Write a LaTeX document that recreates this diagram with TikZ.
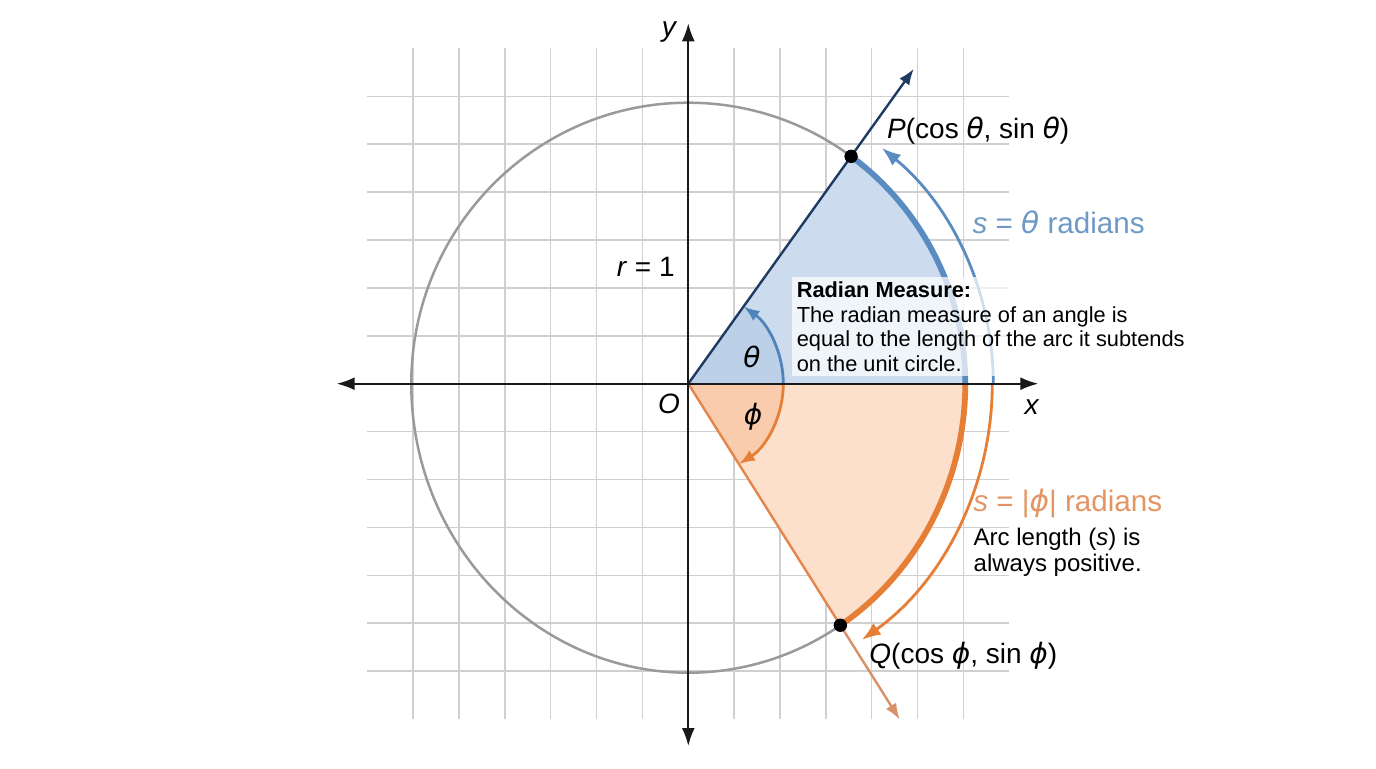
\documentclass[tikz,border=0pt]{standalone}
\usepackage{fontspec}
\setmainfont{Liberation Sans}
\newfontfamily\gk{DejaVu Sans}
\usetikzlibrary{arrows.meta,calc}
\definecolor{navy}{HTML}{1F3B63}
\definecolor{bluethick}{HTML}{5A8CC2}
\definecolor{bluelab}{HTML}{6E9AC5}
\definecolor{bluefill}{HTML}{CCDCEE}
\definecolor{bluedark}{HTML}{BCD0E7}
\definecolor{bluesm}{HTML}{4F84BA}
\definecolor{orline}{HTML}{E4864C}
\definecolor{orthick}{HTML}{E67E35}
\definecolor{orlab}{HTML}{E49563}
\definecolor{orfill}{HTML}{FCE0CC}
\definecolor{ordark}{HTML}{F8CCAD}
\definecolor{orbrown}{HTML}{D79068}
\definecolor{circgray}{HTML}{9A9A9A}
\definecolor{gridgray}{HTML}{D0D0D0}
\newcommand{\gth}{{\gk\itshape θ}}
\newcommand{\gph}{{\gk\itshape ϕ}}
\begin{document}
\begin{tikzpicture}[x=0.5pt,y=0.5pt,
  gridline/.style={draw=gridgray,line width=0.75pt},
  axisline/.style={draw=black!90,line width=1pt},
  circline/.style={draw=circgray,line width=1.25pt},
  lab/.style={font=\fontsize{14}{16}\selectfont,inner sep=0pt},
  slabel/.style={font=\fontsize{14.8}{16}\selectfont,inner sep=0pt},
  midlab/.style={font=\fontsize{12}{13.3}\selectfont,inner sep=0pt},
  bigtip/.style={-{Latex[length=9.5pt,width=7pt]}},
  midtip/.style={-{Latex[length=8pt,width=6pt]}},
  dot/.style={fill=black}
]
\useasboundingbox (-688.3,-384.3) rectangle (687.7,383.7);
\fill[white] (-688.3,-384.3) rectangle (687.7,383.7);
% grid
\foreach \j in {-6,...,6} \draw[gridline] (-320.95,{\j*47.9}) -- (320.95,{\j*47.9});
\foreach \k in {-6,...,6} \draw[gridline] ({\k*45.85},-335.3) -- ({\k*45.85},335.3);
% coordinates
\coordinate (O) at (0,0);
\coordinate (P) at (54:277 and 281);
\coordinate (Q) at (-56.7:277 and 289);
\coordinate (Pend) at ($(O)!1.385!(P)$);
\coordinate (Qend) at ($(O)!1.39!(Q)$);
\coordinate (xl) at (-351.6,0);
\coordinate (xr) at (350,0);
\coordinate (yt) at (0,360.4);
\coordinate (yb) at (0,-362.3);
% sectors
\fill[bluefill] (O) -- (277,0) arc[start angle=0,end angle=54,x radius=277,y radius=281] -- cycle;
\fill[orfill] (O) -- (277,0) arc[start angle=0,end angle=-56.7,x radius=277,y radius=289] -- cycle;
\fill[bluedark] (O) -- (95,0) arc[start angle=0,end angle=54.4,radius=95] -- cycle;
\fill[ordark] (O) -- (95,0) arc[start angle=0,end angle=-57.8,radius=95] -- cycle;
% circle
\draw[circline] (277,0) arc[start angle=0,end angle=180,x radius=277,y radius=281]
  arc[start angle=180,end angle=360,x radius=277,y radius=289];
% thick arcs
\draw[bluethick,line width=2.9pt] (P) arc[start angle=54,end angle=0,x radius=277,y radius=281];
\draw[orthick,line width=2.9pt] (277,0) arc[start angle=0,end angle=-56.7,x radius=277,y radius=289];
% rays
\draw[navy,line width=1.2pt] (O) -- (P);
\draw[navy,line width=1.2pt,midtip] (P) -- (Pend);
\draw[orline,line width=1.2pt] (O) -- (Q);
\draw[orbrown,line width=1.2pt,midtip] (Q) -- (Qend);
% outer arrows
\draw[bluethick,line width=1.4pt,bigtip] (305,0) arc[start angle=0,end angle=50.6,radius=305];
\draw[orthick,line width=1.4pt,bigtip] (304,0) arc[start angle=0,end angle=-55.2,x radius=304,y radius=312];
% small angle arcs
\draw[bluesm,line width=1.4pt,midtip] (95,0) arc[start angle=0,end angle=54.4,radius=95];
\draw[orthick,line width=1.4pt,midtip] (95,0) arc[start angle=0,end angle=-57.8,radius=95];
% box
\node[anchor=north west,fill=white,fill opacity=0.72,text opacity=1,
  inner xsep=2.2pt,inner ysep=2.3pt,align=left,
  font=\fontsize{10.9}{12.25}\selectfont] (box) at (103.7,106.7)
  {\textbf{Radian Measure:}\\The radian measure of an angle is\\equal to the length of the arc it subtends\\on the unit circle.};
% axes
\draw[axisline,{Latex[length=9pt,width=6.5pt]}-{Latex[length=9pt,width=6.5pt]}] (xl) -- (xr);
\draw[axisline,{Latex[length=9pt,width=6.5pt]}-{Latex[length=9pt,width=6.5pt]}] (yb) -- (yt);
% dots
\fill[dot] (P) circle (3.35pt);
\fill[dot] (Q) circle (3.35pt);
% labels
\node[lab] (ylab) at (-19.3,351.7) {\itshape y};
\node[lab] (xlab) at (343.4,-23) {\itshape x};
\node[lab] (Olab) at (-19.3,-20.3) {\itshape O};
\node[lab,anchor=base east] (rlab) at (-13.3,107) {\itshape r\/ \upshape = 1};
\node[lab] (thlab) at (63.7,26.7) {\gth};
\node[lab] (phlab) at (64.7,-33.3) {\gph};
\node[lab,anchor=base west] (Plab) at (198.5,244.9) {\itshape P\upshape (cos \gth, sin \gth)};
\node[slabel,anchor=base west,text=bluelab] (slab) at (284,150.7) {\itshape s\upshape\ = \gth\ radians};
\node[slabel,anchor=base west,text=orlab] (s2lab) at (284.7,-128) {\itshape s\upshape\ = |\gph| radians};
\node[midlab,anchor=base west] (arclab1) at (285,-161.3) {Arc length (\textit{s}) is};
\node[midlab,anchor=base west] (arclab2) at (285,-188) {always positive.};
\node[lab,anchor=base west] (Qlab) at (180.7,-279.6) {\itshape Q\upshape (cos \gph, sin \gph)};
\end{tikzpicture}
\end{document}
